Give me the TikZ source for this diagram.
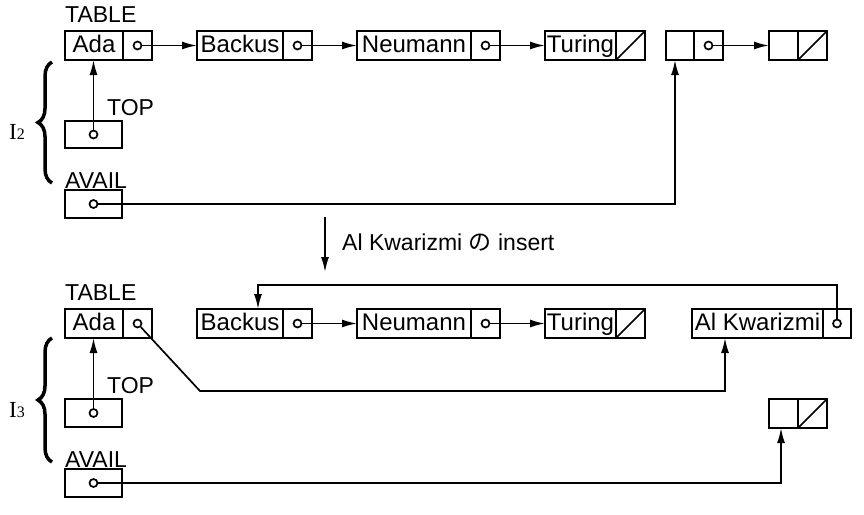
\documentclass[tikz,border=0pt]{standalone}
\usepackage{fontspec}
\setmainfont{Liberation Sans}
\newfontfamily\cjk{Noto Sans CJK JP}
\newfontfamily\serif{Liberation Serif}
\usetikzlibrary{arrows.meta,positioning,decorations.pathreplacing}

\tikzset{
  cell/.style={draw, line width=1.7pt, minimum height=29pt, inner sep=0pt, outer sep=0pt,
    text height=18pt, text depth=4.5pt, font=\fontsize{24}{26}\selectfont, anchor=west},
  ptr/.style={cell, minimum width=29pt},
  dot/.style={circle, draw, line width=1.7pt, minimum size=8pt, inner sep=0pt, fill=white},
  link/.style={line width=1.7pt, -{Latex[length=15pt,width=8pt]}},
  nil/.style={line width=1.7pt},
  lbl/.style={font=\fontsize{23}{25}\selectfont, inner sep=0pt, anchor=base west},
  idx/.style={font=\serif\fontsize{23}{24}\selectfont, inner sep=0pt, anchor=base west},
  curly/.style={decorate, decoration={brace, amplitude=14pt}, line width=3.5pt},
}

\begin{document}
\begin{tikzpicture}[x=1pt, y=-1pt]
\useasboundingbox (0,0) rectangle (864,514);
\node[lbl] (table1) at (65,22.5) {TABLE};
\node[cell, minimum width=58pt] (ada1) at (65,45.5) {Ada};
\node[ptr, right=0pt of ada1] (ada1P) {};
\node[cell, minimum width=86pt] (backus1) at (197,45.5) {Backus};
\node[ptr, right=0pt of backus1] (backus1P) {};
\node[cell, minimum width=114pt] (neumann1) at (357,45.5) {Neumann};
\node[ptr, right=0pt of neumann1] (neumann1P) {};
\node[cell, minimum width=71pt] (turing1) at (545,45.5) {Turing};
\node[ptr, right=0pt of turing1] (turing1P) {};
\node[cell, minimum width=28pt] (freeA) at (666,45.5) {};
\node[ptr, right=0pt of freeA] (freeAP) {};
\node[cell, minimum width=29pt] (freeB) at (769,45.5) {};
\node[ptr, right=0pt of freeB] (freeBP) {};
\node[dot] (ada1D) at (ada1P) {};
\node[dot] (backus1D) at (backus1P) {};
\node[dot] (neumann1D) at (neumann1P) {};
\node[dot] (freeAD) at (freeAP) {};
\draw[link] (ada1D) -- (backus1);
\draw[link] (backus1D) -- (neumann1);
\draw[link] (neumann1D) -- (turing1);
\draw[link] (freeAD) -- (freeB);
\draw[nil] (turing1P.south west) -- (turing1P.north east);
\draw[nil] (freeBP.south west) -- (freeBP.north east);
\node[lbl] (top1L) at (107,115) {TOP};
\node[cell, minimum width=57pt, minimum height=27pt] (top1) at (65,134.5) {};
\node[dot] (top1D) at (top1) {};
\draw[link] (top1D) -- (top1D |- ada1.south);
\node[lbl] (avail1L) at (65,188) {AVAIL};
\node[cell, minimum width=57pt, minimum height=28pt] (avail1) at (65,204) {};
\node[dot] (avail1D) at (avail1) {};
\draw[link] (avail1D) -| ([xshift=-5pt]freeA.south);
\draw[curly] (52,183) -- (52,62);
\node[idx] (i2) at (9,139) {I{\fontsize{16}{17}\selectfont 2}};
\coordinate (insA) at (325,217);
\coordinate (insB) at (325,272);
\draw[link] (insA) -- (insB);
\node[lbl] (insL) at (342,250) {Al Kwarizmi {\cjk の} insert};
\node[lbl] (table2) at (65,300.5) {TABLE};
\node[cell, minimum width=58pt] (ada2) at (65,323.5) {Ada};
\node[ptr, right=0pt of ada2] (ada2P) {};
\node[cell, minimum width=86pt] (backus2) at (197,323.5) {Backus};
\node[ptr, right=0pt of backus2] (backus2P) {};
\node[cell, minimum width=114pt] (neumann2) at (357,323.5) {Neumann};
\node[ptr, right=0pt of neumann2] (neumann2P) {};
\node[cell, minimum width=71pt] (turing2) at (545,323.5) {Turing};
\node[ptr, right=0pt of turing2] (turing2P) {};
\node[cell, minimum width=131pt] (alk) at (692,323.5) {Al Kwarizmi};
\node[ptr, minimum width=28pt, right=0pt of alk] (alkP) {};
\node[dot] (ada2D) at (ada2P) {};
\node[dot] (backus2D) at (backus2P) {};
\node[dot] (neumann2D) at (neumann2P) {};
\node[dot] (alkD) at (alkP) {};
\draw[link] (backus2D) -- (neumann2);
\draw[link] (neumann2D) -- (turing2);
\draw[nil] (turing2P.south west) -- (turing2P.north east);
\coordinate (loopY) at (0,285);
\draw[link] (alkD) -- (alkD |- loopY) -| ([xshift=18pt]backus2.north);
\coordinate (bendA) at (200,391);
\coordinate (bendB) at (725,391);
\draw[link] (ada2D) -- (bendA) -- (bendB) -- (bendB |- alk.south);
\node[lbl] (top2L) at (107,393) {TOP};
\node[cell, minimum width=57pt, minimum height=28pt] (top2) at (65,413) {};
\node[dot] (top2D) at (top2) {};
\draw[link] (top2D) -- (top2D |- ada2.south);
\node[cell, minimum width=29pt] (free2) at (769,413.5) {};
\node[ptr, right=0pt of free2] (free2P) {};
\draw[nil] (free2P.south west) -- (free2P.north east);
\node[lbl] (avail2L) at (65,467) {AVAIL};
\node[cell, minimum width=57pt, minimum height=28pt] (avail2) at (65,483) {};
\node[dot] (avail2D) at (avail2) {};
\draw[link] (avail2D) -| ([xshift=-2.5pt]free2.south);
\draw[curly] (52,462) -- (52,338);
\node[idx] (i3) at (9,417) {I{\fontsize{16}{17}\selectfont 3}};
\end{tikzpicture}
\end{document}
